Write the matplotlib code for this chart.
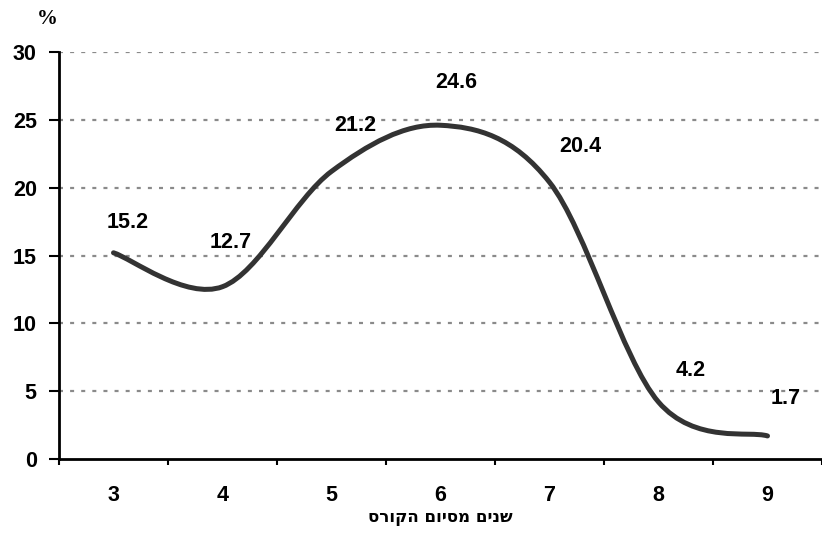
import matplotlib.pyplot as plt
from matplotlib.path import Path
from matplotlib.patches import PathPatch
import numpy as np

years = [3, 4, 5, 6, 7, 8, 9]
share = [15.2, 12.7, 21.2, 24.6, 20.4, 4.2, 1.7]
y_ticks = [0, 5, 10, 15, 20, 25, 30]
x_title = "שנים מסיום הקורס"
y_unit = "%"

# label offsets in points (dx, dy) relative to each point
label_offsets = [(10, 22), (6, 32), (17, 33), (11, 31), (22, 26), (23, 23), (13, 27)]


def smooth_path(xs, ys):
    # Excel-like smoothed line: cubic bezier, tangents from neighbours
    pts = np.column_stack([xs, ys]).astype(float)
    n = len(pts)
    verts = [pts[0]]
    codes = [Path.MOVETO]
    for i in range(n - 1):
        p0 = pts[i - 1] if i > 0 else pts[i]
        p1 = pts[i]
        p2 = pts[i + 1]
        p3 = pts[i + 2] if i + 2 < n else pts[i + 1]
        c1 = p1 + (p2 - p0) / 6.0
        c2 = p2 - (p3 - p1) / 6.0
        verts += [c1, c2, p2]
        codes += [Path.CURVE4] * 3
    return Path(verts, codes)


plt.rcParams['font.family'] = ['Liberation Sans', 'DejaVu Sans']

fig = plt.figure(figsize=(8.22, 5.34), dpi=100)
ax = fig.add_axes([59 / 822, 1 - 459 / 534, 1 - 59 / 822, (459 - 52) / 534])

for v in y_ticks[1:]:
    ax.axhline(v, color='#8a8a8a', lw=1.6, linestyle=(0, (1.8, 3.2)), zorder=1)

patch = PathPatch(smooth_path(years, share), facecolor='none', edgecolor='#333333',
                  lw=3.6, capstyle='round', joinstyle='round', zorder=3)
ax.add_patch(patch)

for x, v, (dx, dy) in zip(years, share, label_offsets):
    ax.annotate(f"{v}", (x, v), xytext=(dx, dy), textcoords='offset points',
                ha='center', va='center', fontsize=15.5, fontweight='bold')

ax.set_xlim(2.5, 2.5 + (822 - 59) / 109.5)
ax.set_ylim(0, 30)
ax.set_yticks(y_ticks)
ax.set_yticklabels([str(t) for t in y_ticks], fontsize=15.5, fontweight='bold')
ax.set_xticks(years)
ax.set_xticklabels([str(y) for y in years], fontsize=15.5, fontweight='bold')
ax.set_xticks(np.arange(2.5, 9.6, 1.0), minor=True)
ax.tick_params(axis='x', which='major', length=0, pad=19)
ax.tick_params(axis='x', which='minor', length=4, width=1.5, direction='out')
ax.tick_params(axis='y', length=7, width=1.5, direction='out', pad=9)

for side in ['top', 'right']:
    ax.spines[side].set_visible(False)
for side in ['left', 'bottom']:
    ax.spines[side].set_linewidth(2)

# matplotlib has no bidi support, so reverse the Hebrew text for display
ax.set_xlabel(x_title[::-1], fontsize=12, fontweight='bold', family='DejaVu Sans',
              labelpad=1)
fig.text(47 / 822, 1 - 19 / 534, y_unit, fontsize=15, fontweight='bold',
         family='Liberation Serif', ha='center', va='center')

fig.savefig('out.png', dpi=100)
